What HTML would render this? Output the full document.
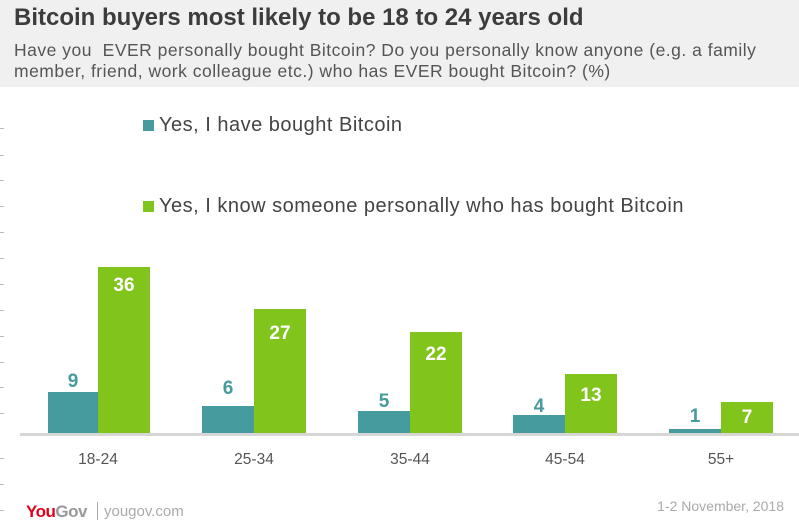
<!DOCTYPE html>
<html><head><style>
body{margin:0;width:799px;height:527px;background:#fff;font-family:"Liberation Sans",sans-serif;position:relative;overflow:hidden}
.hd{position:absolute;left:0;top:0;width:799px;height:87px;background:#f0f0f0}
.t{position:absolute;left:14px;top:4px;font-size:24px;font-weight:bold;color:#3c3c3c}
.s{position:absolute;left:14px;top:40px;font-size:17.5px;letter-spacing:0.5px;color:#555;line-height:21px;white-space:nowrap}
.lg{position:absolute;font-size:20px;letter-spacing:0.5px;color:#444}
.sw{display:inline-block;width:11px;height:11px;margin-right:5px}
.b{position:absolute}
.v{position:absolute;font-weight:bold;font-size:19px;text-align:center;width:52px}
.x{position:absolute;top:451px;font-size:15.5px;color:#555;width:100px;text-align:center}
.tk{position:absolute;left:0;width:4px;height:1px;background:#bbb}
</style></head><body>
<div class="hd"></div>
<div class="t">Bitcoin buyers most likely to be 18 to 24 years old</div>
<div class="s">Have you&nbsp; EVER personally bought Bitcoin? Do you personally know anyone (e.g. a family<br>member, friend, work colleague etc.) who has EVER bought Bitcoin? (%)</div>
<div class="lg" style="left:143px;top:114px"><span class="sw" style="background:#469b9e"></span>Yes, I have bought Bitcoin</div>
<div class="lg" style="left:143px;top:195px"><span class="sw" style="background:#80c41c"></span>Yes, I know someone personally who has bought Bitcoin</div>
<div class="tk" style="top:128px"></div><div class="tk" style="top:155px"></div><div class="tk" style="top:180px"></div><div class="tk" style="top:206px"></div><div class="tk" style="top:232px"></div><div class="tk" style="top:258px"></div><div class="tk" style="top:284px"></div><div class="tk" style="top:310px"></div><div class="tk" style="top:336px"></div><div class="tk" style="top:362px"></div><div class="tk" style="top:387px"></div><div class="tk" style="top:413px"></div><div class="tk" style="top:458px"></div><div class="tk" style="top:484px"></div><div class="tk" style="top:510px"></div>

<div class="b" style="left:48px;top:392px;width:50px;height:41px;background:#469b9e"></div>
<div class="b" style="left:98px;top:267px;width:52px;height:166px;background:#80c41c"></div>
<div class="b" style="left:202px;top:406px;width:52px;height:27px;background:#469b9e"></div>
<div class="b" style="left:254px;top:309px;width:52px;height:124px;background:#80c41c"></div>
<div class="b" style="left:358px;top:411px;width:52px;height:22px;background:#469b9e"></div>
<div class="b" style="left:410px;top:332px;width:52px;height:101px;background:#80c41c"></div>
<div class="b" style="left:513px;top:415px;width:52px;height:18px;background:#469b9e"></div>
<div class="b" style="left:565px;top:374px;width:52px;height:59px;background:#80c41c"></div>
<div class="b" style="left:669px;top:429px;width:52px;height:4px;background:#469b9e"></div>
<div class="b" style="left:721px;top:402px;width:52px;height:31px;background:#80c41c"></div>
<div class="b" style="left:20px;top:433px;width:779px;height:3px;background:#d6d6d6"></div>

<div class="v" style="left:47px;top:371px;color:#469b9e">9</div>
<div class="v" style="left:98px;top:275px;color:#fff">36</div>
<div class="v" style="left:202px;top:378px;color:#469b9e">6</div>
<div class="v" style="left:254px;top:323px;color:#fff">27</div>
<div class="v" style="left:358px;top:391px;color:#469b9e">5</div>
<div class="v" style="left:410px;top:344px;color:#fff">22</div>
<div class="v" style="left:513px;top:396px;color:#469b9e">4</div>
<div class="v" style="left:565px;top:385px;color:#fff">13</div>
<div class="v" style="left:669px;top:406px;color:#469b9e">1</div>
<div class="v" style="left:721px;top:407px;color:#fff">7</div>

<div class="x" style="left:48px">18-24</div>
<div class="x" style="left:204px">25-34</div>
<div class="x" style="left:360px">35-44</div>
<div class="x" style="left:515px">45-54</div>
<div class="x" style="left:671px">55+</div>

<div style="position:absolute;left:26px;top:502px;font-size:17px;font-weight:bold;letter-spacing:-0.5px"><span style="color:#e2001a">You</span><span style="color:#999">Gov</span></div>
<div style="position:absolute;left:97px;top:502px;width:1px;height:18px;background:#aaa"></div>
<div style="position:absolute;left:104px;top:503px;font-size:15px;color:#aaa">yougov.com</div>
<div style="position:absolute;right:15px;top:498px;font-size:14px;color:#aaa">1-2 November, 2018</div>
</body></html>
